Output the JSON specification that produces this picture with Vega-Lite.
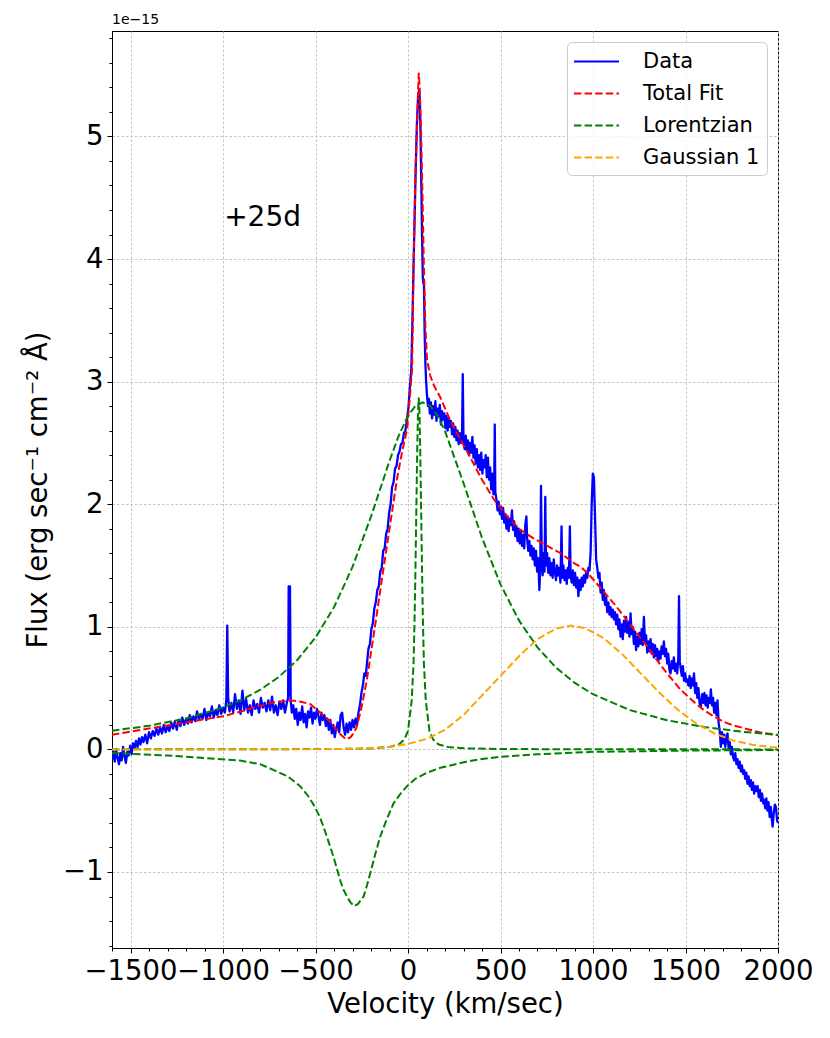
{
  "$schema": "https://vega.github.io/schema/vega-lite/v6.json",
  "width": 666,
  "height": 917,
  "autosize": {"type": "none"},
  "padding": {"left": 112, "top": 31, "right": 52, "bottom": 90},
  "title": {"text": "1e−15", "anchor": "start", "frame": "group", "fontSize": 14, "font": "DejaVu Sans", "fontWeight": "normal", "color": "black", "offset": 4},
  "config": {
    "view": {"stroke": "black", "strokeWidth": 1},
    "font": "DejaVu Sans",
    "axis": {
      "labelFont": "DejaVu Sans", "titleFont": "DejaVu Sans",
      "labelFontSize": 27.5, "titleFontSize": 27.5, "titleFontWeight": "normal",
      "labelColor": "black", "titleColor": "black",
      "tickColor": "black", "domainColor": "black", "tickSize": 5, "tickWidth": 1,
      "gridColor": "#c0c0c0", "gridDash": [2.5, 2], "gridWidth": 0.9,
      "labelPadding": 4
    },
    "legend": {
      "orient": "top-right", "offset": 11, "symbolType": "M-2,0L2,0", "symbolSize": 506.25, "symbolStrokeWidth": 2, "symbolOffset": 10,
      "labelFontSize": 21, "labelFont": "DejaVu Sans", "labelColor": "black",
      "padding": 7, "rowPadding": 9, "labelOffset": 34,
      "strokeColor": "#cccccc", "fillColor": "rgba(255,255,255,0.8)", "cornerRadius": 5
    }
  },
  "datasets": {
    "data": [
      {"v":-1600,"f":-0.08},{"v":-1592,"f":-0.02},{"v":-1585,"f":-0.10},{"v":-1578,"f":0.00},{"v":-1570,"f":-0.07},{"v":-1562,"f":-0.12},{"v":-1555,"f":-0.03},{"v":-1548,"f":-0.09},{"v":-1540,"f":0.02},{"v":-1532,"f":-0.06},{"v":-1525,"f":-0.11},{"v":-1517,"f":-0.02},{"v":-1510,"f":-0.05},{"v":-1502,"f":0.03},{"v":-1494,"f":-0.04},{"v":-1486,"f":0.05},{"v":-1478,"f":0.01},{"v":-1470,"f":0.07},{"v":-1462,"f":0.02},{"v":-1454,"f":0.09},{"v":-1446,"f":0.04},{"v":-1438,"f":0.10},{"v":-1430,"f":0.06},{"v":-1420,"f":0.12},{"v":-1410,"f":0.05},{"v":-1400,"f":0.14},{"v":-1390,"f":0.09},{"v":-1380,"f":0.15},{"v":-1370,"f":0.11},{"v":-1360,"f":0.17},{"v":-1350,"f":0.12},{"v":-1340,"f":0.18},{"v":-1330,"f":0.13},{"v":-1320,"f":0.20},{"v":-1310,"f":0.14},{"v":-1300,"f":0.19},{"v":-1290,"f":0.15},{"v":-1280,"f":0.22},{"v":-1270,"f":0.17},{"v":-1260,"f":0.23},{"v":-1250,"f":0.16},{"v":-1240,"f":0.24},{"v":-1230,"f":0.19},{"v":-1220,"f":0.26},{"v":-1210,"f":0.20},{"v":-1200,"f":0.25},{"v":-1190,"f":0.21},{"v":-1180,"f":0.28},{"v":-1170,"f":0.22},{"v":-1160,"f":0.27},{"v":-1150,"f":0.23},{"v":-1140,"f":0.31},{"v":-1130,"f":0.24},{"v":-1120,"f":0.29},{"v":-1110,"f":0.25},{"v":-1100,"f":0.33},{"v":-1090,"f":0.24},{"v":-1080,"f":0.30},{"v":-1070,"f":0.27},{"v":-1060,"f":0.35},{"v":-1050,"f":0.26},{"v":-1040,"f":0.32},{"v":-1030,"f":0.28},{"v":-1020,"f":0.36},{"v":-1010,"f":0.29},{"v":-1000,"f":0.34},{"v":-990,"f":0.30},{"v":-982,"f":0.40},{"v":-977,"f":1.01},{"v":-972,"f":0.42},{"v":-965,"f":0.31},{"v":-955,"f":0.38},{"v":-945,"f":0.30},{"v":-935,"f":0.45},{"v":-925,"f":0.33},{"v":-915,"f":0.40},{"v":-905,"f":0.29},{"v":-895,"f":0.48},{"v":-885,"f":0.32},{"v":-875,"f":0.41},{"v":-865,"f":0.30},{"v":-855,"f":0.36},{"v":-845,"f":0.28},{"v":-835,"f":0.40},{"v":-825,"f":0.33},{"v":-815,"f":0.37},{"v":-805,"f":0.30},{"v":-795,"f":0.42},{"v":-785,"f":0.34},{"v":-775,"f":0.38},{"v":-765,"f":0.31},{"v":-755,"f":0.40},{"v":-745,"f":0.32},{"v":-735,"f":0.43},{"v":-725,"f":0.30},{"v":-715,"f":0.36},{"v":-705,"f":0.28},{"v":-695,"f":0.39},{"v":-685,"f":0.33},{"v":-675,"f":0.40},{"v":-665,"f":0.30},{"v":-655,"f":0.38},{"v":-648,"f":0.42},{"v":-645,"f":1.33},{"v":-641,"f":0.45},{"v":-638,"f":1.33},{"v":-634,"f":0.40},{"v":-628,"f":0.30},{"v":-620,"f":0.36},{"v":-612,"f":0.25},{"v":-604,"f":0.33},{"v":-596,"f":0.20},{"v":-588,"f":0.30},{"v":-580,"f":0.24},{"v":-572,"f":0.35},{"v":-564,"f":0.22},{"v":-556,"f":0.29},{"v":-548,"f":0.18},{"v":-540,"f":0.31},{"v":-532,"f":0.26},{"v":-524,"f":0.34},{"v":-516,"f":0.21},{"v":-508,"f":0.30},{"v":-500,"f":0.25},{"v":-492,"f":0.33},{"v":-484,"f":0.27},{"v":-476,"f":0.20},{"v":-468,"f":0.30},{"v":-460,"f":0.24},{"v":-452,"f":0.28},{"v":-444,"f":0.19},{"v":-436,"f":0.25},{"v":-428,"f":0.16},{"v":-420,"f":0.24},{"v":-412,"f":0.13},{"v":-404,"f":0.20},{"v":-396,"f":0.10},{"v":-388,"f":0.17},{"v":-380,"f":0.22},{"v":-372,"f":0.14},{"v":-364,"f":0.28},{"v":-356,"f":0.30},{"v":-348,"f":0.18},{"v":-340,"f":0.12},{"v":-332,"f":0.21},{"v":-324,"f":0.14},{"v":-316,"f":0.22},{"v":-308,"f":0.16},{"v":-300,"f":0.24},{"v":-292,"f":0.18},{"v":-284,"f":0.25},{"v":-276,"f":0.20},{"v":-268,"f":0.30},{"v":-260,"f":0.36},{"v":-252,"f":0.46},{"v":-244,"f":0.52},{"v":-236,"f":0.62},{"v":-228,"f":0.60},{"v":-222,"f":0.70},{"v":-214,"f":0.82},{"v":-206,"f":0.86},{"v":-198,"f":0.98},{"v":-190,"f":1.03},{"v":-182,"f":1.15},{"v":-174,"f":1.20},{"v":-166,"f":1.30},{"v":-158,"f":1.33},{"v":-150,"f":1.45},{"v":-142,"f":1.48},{"v":-134,"f":1.62},{"v":-126,"f":1.64},{"v":-118,"f":1.76},{"v":-110,"f":1.80},{"v":-102,"f":1.93},{"v":-94,"f":2.00},{"v":-86,"f":2.14},{"v":-78,"f":2.18},{"v":-70,"f":2.29},{"v":-62,"f":2.31},{"v":-54,"f":2.40},{"v":-46,"f":2.43},{"v":-38,"f":2.49},{"v":-30,"f":2.50},{"v":-22,"f":2.58},{"v":-14,"f":2.60},{"v":-6,"f":2.69},{"v":2,"f":2.78},{"v":10,"f":2.95},{"v":18,"f":3.10},{"v":24,"f":3.50},{"v":30,"f":3.95},{"v":36,"f":4.35},{"v":42,"f":4.75},{"v":48,"f":5.10},{"v":54,"f":5.30},{"v":60,"f":5.38},{"v":64,"f":5.30},{"v":68,"f":5.00},{"v":72,"f":4.60},{"v":76,"f":4.20},{"v":80,"f":3.85},{"v":83,"f":3.80},{"v":86,"f":3.82},{"v":90,"f":3.40},{"v":94,"f":3.15},{"v":98,"f":3.00},{"v":103,"f":2.88},{"v":108,"f":2.80},{"v":113,"f":2.86},{"v":118,"f":2.74},{"v":124,"f":2.83},{"v":130,"f":2.70},{"v":136,"f":2.80},{"v":142,"f":2.73},{"v":148,"f":2.84},{"v":154,"f":2.68},{"v":160,"f":2.78},{"v":166,"f":2.72},{"v":172,"f":2.81},{"v":178,"f":2.65},{"v":184,"f":2.76},{"v":190,"f":2.69},{"v":196,"f":2.74},{"v":202,"f":2.62},{"v":208,"f":2.72},{"v":214,"f":2.60},{"v":220,"f":2.70},{"v":226,"f":2.63},{"v":232,"f":2.68},{"v":238,"f":2.57},{"v":244,"f":2.66},{"v":250,"f":2.55},{"v":256,"f":2.63},{"v":262,"f":2.52},{"v":268,"f":2.60},{"v":274,"f":2.49},{"v":280,"f":2.58},{"v":286,"f":2.50},{"v":292,"f":2.55},{"v":296,"f":3.06},{"v":300,"f":2.52},{"v":306,"f":2.45},{"v":312,"f":2.56},{"v":318,"f":2.44},{"v":324,"f":2.52},{"v":330,"f":2.40},{"v":336,"f":2.50},{"v":342,"f":2.42},{"v":348,"f":2.55},{"v":354,"f":2.38},{"v":360,"f":2.48},{"v":366,"f":2.33},{"v":372,"f":2.45},{"v":378,"f":2.30},{"v":384,"f":2.40},{"v":390,"f":2.28},{"v":396,"f":2.42},{"v":402,"f":2.25},{"v":408,"f":2.36},{"v":414,"f":2.30},{"v":420,"f":2.40},{"v":426,"f":2.22},{"v":432,"f":2.38},{"v":438,"f":2.20},{"v":444,"f":2.30},{"v":450,"f":2.12},{"v":456,"f":2.25},{"v":462,"f":2.08},{"v":466,"f":2.15},{"v":469,"f":2.65},{"v":472,"f":2.10},{"v":478,"f":2.04},{"v":484,"f":1.95},{"v":490,"f":2.02},{"v":496,"f":1.92},{"v":502,"f":1.98},{"v":508,"f":1.88},{"v":514,"f":1.97},{"v":520,"f":1.85},{"v":526,"f":1.92},{"v":532,"f":1.80},{"v":538,"f":1.90},{"v":544,"f":1.78},{"v":550,"f":1.88},{"v":556,"f":1.83},{"v":562,"f":1.95},{"v":568,"f":1.79},{"v":574,"f":1.86},{"v":580,"f":1.74},{"v":586,"f":1.82},{"v":592,"f":1.70},{"v":598,"f":1.80},{"v":604,"f":1.68},{"v":610,"f":1.78},{"v":616,"f":1.66},{"v":622,"f":1.75},{"v":628,"f":1.64},{"v":634,"f":1.83},{"v":640,"f":1.90},{"v":644,"f":1.72},{"v":650,"f":1.62},{"v":656,"f":1.70},{"v":662,"f":1.58},{"v":668,"f":1.66},{"v":674,"f":1.55},{"v":680,"f":1.64},{"v":686,"f":1.50},{"v":692,"f":1.62},{"v":698,"f":1.45},{"v":704,"f":1.56},{"v":710,"f":1.30},{"v":715,"f":1.48},{"v":719,"f":2.15},{"v":723,"f":1.55},{"v":728,"f":1.42},{"v":733,"f":1.60},{"v":738,"f":1.45},{"v":742,"f":2.06},{"v":746,"f":1.50},{"v":752,"f":1.60},{"v":758,"f":1.44},{"v":764,"f":1.56},{"v":770,"f":1.42},{"v":776,"f":1.52},{"v":782,"f":1.40},{"v":788,"f":1.55},{"v":794,"f":1.45},{"v":800,"f":1.38},{"v":806,"f":1.50},{"v":812,"f":1.42},{"v":818,"f":1.48},{"v":824,"f":1.36},{"v":830,"f":1.82},{"v":834,"f":1.40},{"v":840,"f":1.50},{"v":846,"f":1.38},{"v":852,"f":1.46},{"v":858,"f":1.35},{"v":864,"f":1.48},{"v":870,"f":1.40},{"v":875,"f":1.82},{"v":879,"f":1.42},{"v":885,"f":1.36},{"v":891,"f":1.46},{"v":897,"f":1.34},{"v":903,"f":1.44},{"v":909,"f":1.32},{"v":915,"f":1.40},{"v":921,"f":1.25},{"v":927,"f":1.38},{"v":933,"f":1.30},{"v":939,"f":1.40},{"v":945,"f":1.33},{"v":951,"f":1.42},{"v":957,"f":1.36},{"v":963,"f":1.45},{"v":969,"f":1.40},{"v":975,"f":1.48},{"v":981,"f":1.46},{"v":987,"f":1.60},{"v":993,"f":2.00},{"v":999,"f":2.25},{"v":1005,"f":2.22},{"v":1011,"f":1.90},{"v":1017,"f":1.55},{"v":1023,"f":1.48},{"v":1029,"f":1.40},{"v":1035,"f":1.44},{"v":1041,"f":1.28},{"v":1047,"f":1.36},{"v":1053,"f":1.22},{"v":1059,"f":1.30},{"v":1065,"f":1.18},{"v":1071,"f":1.24},{"v":1077,"f":1.12},{"v":1083,"f":1.20},{"v":1089,"f":1.10},{"v":1095,"f":1.16},{"v":1101,"f":1.08},{"v":1107,"f":1.14},{"v":1113,"f":1.06},{"v":1119,"f":1.12},{"v":1125,"f":1.02},{"v":1131,"f":1.10},{"v":1137,"f":0.98},{"v":1143,"f":1.06},{"v":1149,"f":0.92},{"v":1155,"f":1.02},{"v":1161,"f":0.90},{"v":1167,"f":1.05},{"v":1173,"f":0.96},{"v":1179,"f":1.08},{"v":1185,"f":0.95},{"v":1191,"f":1.04},{"v":1197,"f":0.92},{"v":1203,"f":1.11},{"v":1209,"f":0.94},{"v":1215,"f":1.00},{"v":1221,"f":0.86},{"v":1227,"f":0.96},{"v":1233,"f":0.81},{"v":1239,"f":0.92},{"v":1245,"f":0.84},{"v":1251,"f":0.95},{"v":1257,"f":0.86},{"v":1263,"f":0.98},{"v":1269,"f":0.85},{"v":1275,"f":1.08},{"v":1281,"f":0.88},{"v":1287,"f":0.93},{"v":1293,"f":0.79},{"v":1299,"f":0.88},{"v":1305,"f":0.80},{"v":1311,"f":0.90},{"v":1317,"f":0.78},{"v":1323,"f":0.86},{"v":1329,"f":0.75},{"v":1335,"f":0.85},{"v":1341,"f":0.76},{"v":1347,"f":0.82},{"v":1353,"f":0.72},{"v":1359,"f":0.80},{"v":1365,"f":0.74},{"v":1371,"f":0.84},{"v":1377,"f":0.78},{"v":1383,"f":0.88},{"v":1389,"f":0.76},{"v":1395,"f":0.82},{"v":1401,"f":0.70},{"v":1407,"f":0.78},{"v":1413,"f":0.65},{"v":1419,"f":0.62},{"v":1425,"f":0.72},{"v":1431,"f":0.66},{"v":1437,"f":0.75},{"v":1443,"f":0.64},{"v":1449,"f":0.70},{"v":1455,"f":0.62},{"v":1461,"f":0.74},{"v":1465,"f":1.25},{"v":1469,"f":0.72},{"v":1474,"f":0.66},{"v":1480,"f":0.60},{"v":1486,"f":0.68},{"v":1492,"f":0.56},{"v":1498,"f":0.62},{"v":1504,"f":0.55},{"v":1510,"f":0.57},{"v":1516,"f":0.52},{"v":1522,"f":0.60},{"v":1528,"f":0.50},{"v":1534,"f":0.58},{"v":1540,"f":0.52},{"v":1546,"f":0.62},{"v":1552,"f":0.46},{"v":1558,"f":0.54},{"v":1564,"f":0.42},{"v":1570,"f":0.50},{"v":1576,"f":0.38},{"v":1583,"f":0.35},{"v":1590,"f":0.45},{"v":1596,"f":0.38},{"v":1602,"f":0.46},{"v":1608,"f":0.36},{"v":1614,"f":0.44},{"v":1620,"f":0.34},{"v":1626,"f":0.42},{"v":1632,"f":0.38},{"v":1637,"f":0.49},{"v":1643,"f":0.36},{"v":1649,"f":0.42},{"v":1655,"f":0.30},{"v":1661,"f":0.38},{"v":1667,"f":0.28},{"v":1673,"f":0.40},{"v":1679,"f":0.22},{"v":1685,"f":0.15},{"v":1691,"f":0.02},{"v":1697,"f":0.14},{"v":1703,"f":0.05},{"v":1709,"f":0.12},{"v":1715,"f":0.02},{"v":1721,"f":0.10},{"v":1727,"f":0.13},{"v":1733,"f":0.01},{"v":1739,"f":0.06},{"v":1745,"f":-0.04},{"v":1751,"f":0.02},{"v":1757,"f":-0.06},{"v":1763,"f":-0.09},{"v":1769,"f":-0.03},{"v":1775,"f":-0.12},{"v":1781,"f":-0.08},{"v":1787,"f":-0.15},{"v":1793,"f":-0.10},{"v":1799,"f":-0.18},{"v":1805,"f":-0.13},{"v":1811,"f":-0.20},{"v":1817,"f":-0.17},{"v":1823,"f":-0.24},{"v":1829,"f":-0.19},{"v":1835,"f":-0.28},{"v":1841,"f":-0.22},{"v":1847,"f":-0.30},{"v":1853,"f":-0.25},{"v":1859,"f":-0.33},{"v":1865,"f":-0.27},{"v":1871,"f":-0.36},{"v":1877,"f":-0.30},{"v":1883,"f":-0.34},{"v":1890,"f":-0.30},{"v":1896,"f":-0.39},{"v":1902,"f":-0.33},{"v":1908,"f":-0.42},{"v":1914,"f":-0.36},{"v":1920,"f":-0.44},{"v":1925,"f":-0.41},{"v":1931,"f":-0.48},{"v":1937,"f":-0.40},{"v":1943,"f":-0.50},{"v":1949,"f":-0.43},{"v":1955,"f":-0.55},{"v":1961,"f":-0.47},{"v":1967,"f":-0.58},{"v":1971,"f":-0.63},{"v":1977,"f":-0.52},{"v":1983,"f":-0.45},{"v":1989,"f":-0.47},{"v":1995,"f":-0.58},{"v":2000,"f":-0.60}
    ],
    "total": [
      {"v":-1600,"f":0.12},{"v":-1400,"f":0.17},{"v":-1200,"f":0.22},{"v":-1000,"f":0.27},{"v":-900,"f":0.31},{"v":-818,"f":0.35},{"v":-720,"f":0.385},{"v":-637,"f":0.40},{"v":-584,"f":0.39},{"v":-529,"f":0.37},{"v":-475,"f":0.30},{"v":-430,"f":0.24},{"v":-403,"f":0.19},{"v":-370,"f":0.13},{"v":-345,"f":0.095},{"v":-330,"f":0.083},{"v":-310,"f":0.10},{"v":-290,"f":0.14},{"v":-276,"f":0.19},{"v":-250,"f":0.35},{"v":-222,"f":0.57},{"v":-195,"f":0.84},{"v":-168,"f":1.11},{"v":-141,"f":1.39},{"v":-114,"f":1.66},{"v":-87,"f":1.93},{"v":-60,"f":2.20},{"v":-33,"f":2.42},{"v":-5,"f":2.61},{"v":12,"f":2.91},{"v":22,"f":3.10},{"v":31,"f":4.00},{"v":40,"f":4.70},{"v":49,"f":5.08},{"v":54,"f":5.35},{"v":58,"f":5.52},{"v":63,"f":5.40},{"v":70,"f":5.08},{"v":78,"f":4.55},{"v":85,"f":4.00},{"v":94,"f":3.45},{"v":103,"f":3.18},{"v":120,"f":3.05},{"v":140,"f":2.97},{"v":175,"f":2.87},{"v":230,"f":2.68},{"v":283,"f":2.53},{"v":337,"f":2.38},{"v":400,"f":2.20},{"v":464,"f":2.04},{"v":536,"f":1.90},{"v":608,"f":1.79},{"v":680,"f":1.72},{"v":753,"f":1.66},{"v":825,"f":1.60},{"v":897,"f":1.52},{"v":933,"f":1.49},{"v":970,"f":1.44},{"v":1005,"f":1.38},{"v":1050,"f":1.30},{"v":1113,"f":1.19},{"v":1160,"f":1.10},{"v":1200,"f":1.02},{"v":1250,"f":0.92},{"v":1294,"f":0.84},{"v":1350,"f":0.72},{"v":1400,"f":0.62},{"v":1474,"f":0.486},{"v":1550,"f":0.38},{"v":1600,"f":0.32},{"v":1655,"f":0.268},{"v":1700,"f":0.23},{"v":1750,"f":0.20},{"v":1835,"f":0.165},{"v":1900,"f":0.14},{"v":2000,"f":0.118}
    ],
    "lorentz": [
      {"c":"broad","v":-1600,"f":0.152},{"c":"broad","v":-1400,"f":0.193},{"c":"broad","v":-1200,"f":0.252},{"c":"broad","v":-1000,"f":0.341},{"c":"broad","v":-900,"f":0.404},{"c":"broad","v":-800,"f":0.485},{"c":"broad","v":-700,"f":0.589},{"c":"broad","v":-600,"f":0.727},{"c":"broad","v":-500,"f":0.912},{"c":"broad","v":-400,"f":1.16},{"c":"broad","v":-300,"f":1.488},{"c":"broad","v":-200,"f":1.899},{"c":"broad","v":-100,"f":2.353},{"c":"broad","v":-50,"f":2.56},{"c":"broad","v":0,"f":2.721},{"c":"broad","v":40,"f":2.802},{"c":"broad","v":80,"f":2.83},{"c":"broad","v":120,"f":2.802},{"c":"broad","v":160,"f":2.721},{"c":"broad","v":200,"f":2.596},{"c":"broad","v":300,"f":2.173},{"c":"broad","v":400,"f":1.726},{"c":"broad","v":500,"f":1.346},{"c":"broad","v":600,"f":1.052},{"c":"broad","v":700,"f":0.832},{"c":"broad","v":800,"f":0.667},{"c":"broad","v":900,"f":0.544},{"c":"broad","v":1000,"f":0.45},{"c":"broad","v":1200,"f":0.32},{"c":"broad","v":1400,"f":0.238},{"c":"broad","v":1600,"f":0.183},{"c":"broad","v":1800,"f":0.145},{"c":"broad","v":2000,"f":0.118},
      {"c":"narrow","v":-1600,"f":0.0},{"c":"narrow","v":-1000,"f":0.001},{"c":"narrow","v":-400,"f":0.003},{"c":"narrow","v":-200,"f":0.008},{"c":"narrow","v":-100,"f":0.02},{"c":"narrow","v":-50,"f":0.04},{"c":"narrow","v":-20,"f":0.08},{"c":"narrow","v":0,"f":0.15},{"c":"narrow","v":20,"f":0.40},{"c":"narrow","v":30,"f":0.70},{"c":"narrow","v":36,"f":1.10},{"c":"narrow","v":40,"f":1.45},{"c":"narrow","v":46,"f":2.05},{"c":"narrow","v":50,"f":2.45},{"c":"narrow","v":54,"f":2.75},{"c":"narrow","v":58,"f":2.87},{"c":"narrow","v":62,"f":2.75},{"c":"narrow","v":66,"f":2.45},{"c":"narrow","v":70,"f":2.05},{"c":"narrow","v":76,"f":1.45},{"c":"narrow","v":80,"f":1.10},{"c":"narrow","v":86,"f":0.70},{"c":"narrow","v":96,"f":0.40},{"c":"narrow","v":116,"f":0.15},{"c":"narrow","v":136,"f":0.08},{"c":"narrow","v":166,"f":0.04},{"c":"narrow","v":216,"f":0.02},{"c":"narrow","v":316,"f":0.008},{"c":"narrow","v":516,"f":0.003},{"c":"narrow","v":1000,"f":0.001},{"c":"narrow","v":2000,"f":0.0},
      {"c":"neg","v":-1600,"f":-0.03},{"c":"neg","v":-1300,"f":-0.05},{"c":"neg","v":-1100,"f":-0.07},{"c":"neg","v":-908,"f":-0.091},{"c":"neg","v":-800,"f":-0.12},{"c":"neg","v":-728,"f":-0.167},{"c":"neg","v":-650,"f":-0.22},{"c":"neg","v":-583,"f":-0.30},{"c":"neg","v":-540,"f":-0.38},{"c":"neg","v":-511,"f":-0.45},{"c":"neg","v":-480,"f":-0.54},{"c":"neg","v":-457,"f":-0.63},{"c":"neg","v":-430,"f":-0.75},{"c":"neg","v":-403,"f":-0.875},{"c":"neg","v":-385,"f":-0.97},{"c":"neg","v":-367,"f":-1.065},{"c":"neg","v":-350,"f":-1.14},{"c":"neg","v":-330,"f":-1.20},{"c":"neg","v":-310,"f":-1.25},{"c":"neg","v":-291,"f":-1.278},{"c":"neg","v":-270,"f":-1.26},{"c":"neg","v":-255,"f":-1.23},{"c":"neg","v":-240,"f":-1.20},{"c":"neg","v":-222,"f":-1.11},{"c":"neg","v":-204,"f":-1.01},{"c":"neg","v":-178,"f":-0.86},{"c":"neg","v":-150,"f":-0.71},{"c":"neg","v":-115,"f":-0.57},{"c":"neg","v":-78,"f":-0.44},{"c":"neg","v":-40,"f":-0.36},{"c":"neg","v":-5,"f":-0.30},{"c":"neg","v":40,"f":-0.24},{"c":"neg","v":103,"f":-0.19},{"c":"neg","v":175,"f":-0.15},{"c":"neg","v":300,"f":-0.105},{"c":"neg","v":391,"f":-0.08},{"c":"neg","v":500,"f":-0.06},{"c":"neg","v":700,"f":-0.04},{"c":"neg","v":1000,"f":-0.02},{"c":"neg","v":1500,"f":-0.01},{"c":"neg","v":2000,"f":-0.005}
    ],
    "gauss": [
      {"v":-1600,"f":0.0},{"v":-1000,"f":0.0},{"v":-500,"f":0.001},{"v":-300,"f":0.005},{"v":-200,"f":0.01},{"v":-100,"f":0.02},{"v":0,"f":0.045},{"v":100,"f":0.085},{"v":200,"f":0.16},{"v":300,"f":0.28},{"v":400,"f":0.44},{"v":500,"f":0.60},{"v":600,"f":0.76},{"v":700,"f":0.90},{"v":800,"f":0.985},{"v":880,"f":1.01},{"v":960,"f":0.988},{"v":1060,"f":0.905},{"v":1160,"f":0.773},{"v":1260,"f":0.617},{"v":1360,"f":0.461},{"v":1460,"f":0.321},{"v":1560,"f":0.209},{"v":1660,"f":0.127},{"v":1760,"f":0.072},{"v":1860,"f":0.038},{"v":1960,"f":0.019},{"v":2000,"f":0.014}
    ],
    "note": [{"v":-786,"f":4.27,"label":"+25d"}]
  },
  "layer": [
    {
      "data": {"name": "data"},
      "mark": {"type": "line", "strokeWidth": 2.3, "clip": true, "strokeJoin": "round"},
      "encoding": {
        "x": {"field": "v", "type": "quantitative", "scale": {"domain": [-1600, 2000], "nice": false, "zero": false},
              "axis": {"title": "Velocity (km/sec)", "values": [-1500, -1000, -500, 0, 500, 1000, 1500, 2000], "format": "d", "grid": true, "labelFlush": false, "labelOverlap": false, "labelBound": false, "titlePadding": 6}},
        "y": {"field": "f", "type": "quantitative", "scale": {"domain": [-1.62, 5.86], "nice": false, "zero": false},
              "axis": {"title": "Flux (erg sec⁻¹ cm⁻² Å)", "values": [-1, 0, 1, 2, 3, 4, 5], "format": "d", "grid": true, "titlePadding": 10}},
        "color": {"datum": "Data", "type": "nominal",
                  "scale": {"domain": ["Data", "Total Fit", "Lorentzian", "Gaussian 1"], "range": ["#0000ff", "#ff0000", "#008000", "#ffa500"]},
                  "legend": {"title": null}},
        "strokeDash": {"datum": "Data", "type": "nominal",
                  "scale": {"domain": ["Data", "Total Fit", "Lorentzian", "Gaussian 1"], "range": [[1, 0], [7.4, 3.2], [7.4, 3.2], [7.4, 3.2]]},
                  "legend": {"title": null}}
      }
    },
    {
      "data": {"name": "total"},
      "mark": {"type": "line", "strokeWidth": 2, "clip": true},
      "encoding": {
        "x": {"field": "v", "type": "quantitative", "axis": null},
        "y": {"field": "f", "type": "quantitative", "axis": null},
        "color": {"datum": "Total Fit", "type": "nominal"},
        "strokeDash": {"datum": "Total Fit", "type": "nominal"}
      }
    },
    {
      "data": {"name": "lorentz"},
      "mark": {"type": "line", "strokeWidth": 2, "clip": true},
      "encoding": {
        "x": {"field": "v", "type": "quantitative", "axis": null},
        "y": {"field": "f", "type": "quantitative", "axis": null},
        "detail": {"field": "c", "type": "nominal"},
        "color": {"datum": "Lorentzian", "type": "nominal"},
        "strokeDash": {"datum": "Lorentzian", "type": "nominal"}
      }
    },
    {
      "data": {"name": "gauss"},
      "mark": {"type": "line", "strokeWidth": 2, "clip": true},
      "encoding": {
        "x": {"field": "v", "type": "quantitative",
              "axis": {"orient": "bottom", "title": null, "labels": false, "grid": false, "domain": false, "tickSize": 3, "values": [-1600,-1400,-1300,-1200,-1100,-900,-800,-700,-600,-400,-300,-200,-100,100,200,300,400,600,700,800,900,1100,1200,1300,1400,1600,1700,1800,1900]}},
        "y": {"field": "f", "type": "quantitative",
              "axis": {"orient": "left", "title": null, "labels": false, "grid": false, "domain": false, "tickSize": 3, "values": [-1.6,-1.4,-1.2,-0.8,-0.6,-0.4,-0.2,0.2,0.4,0.6,0.8,1.2,1.4,1.6,1.8,2.2,2.4,2.6,2.8,3.2,3.4,3.6,3.8,4.2,4.4,4.6,4.8,5.2,5.4,5.6,5.8]}},
        "color": {"datum": "Gaussian 1", "type": "nominal"},
        "strokeDash": {"datum": "Gaussian 1", "type": "nominal"}
      }
    },
    {
      "data": {"name": "note"},
      "mark": {"type": "text", "fontSize": 28, "font": "DejaVu Sans", "align": "center", "baseline": "alphabetic", "color": "black"},
      "encoding": {
        "x": {"field": "v", "type": "quantitative", "axis": null},
        "y": {"field": "f", "type": "quantitative", "axis": null},
        "text": {"field": "label"}
      }
    }
  ],
  "resolve": {"scale": {"x": "shared", "y": "shared"}, "axis": {"x": "independent", "y": "independent"}}
}
